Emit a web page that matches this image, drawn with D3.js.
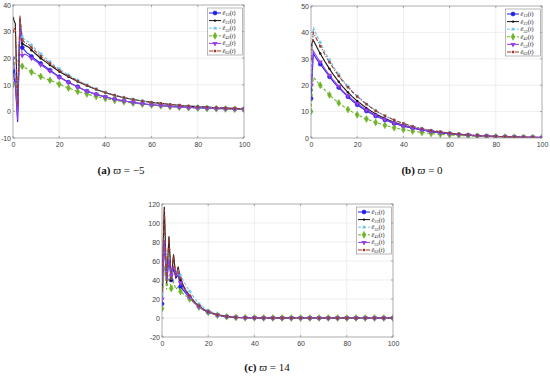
<!DOCTYPE html>
<html lang="en">
<head>
<meta charset="UTF-8"/>
<title>Error curves for three values of varpi</title>
<script src="https://d3js.org/d3.v7.min.js"></script>
<style>
    body { margin: 0; background: #fff; }
    .tick text { font-family: "Liberation Sans", Arial, sans-serif; font-size: 7px; fill: #404040; }
</style>
</head>
<body>
<div id="chart"></div>
<script>
    // time samples shared by all panels
    var tValues = [0, 1, 2, 3, 4, 5, 6, 7, 8, 10, 12, 14, 16, 18, 20, 24, 28, 32, 36, 40,
        44, 48, 52, 56, 60, 64, 68, 72, 76, 80, 84, 88, 92, 96, 100];

    var seriesNames = ["12", "22", "32", "42", "52", "62"];

    // panel (a) varpi = -5
    var a1 = [15, 10, -4, 32, 24, 23, 22, 21.5, 20.6, 19.3, 18, 16.8, 15.5, 14.3, 13, 11, 9.3, 7.6, 6.4, 5.4, 4.6, 3.9, 3.4, 2.9, 2.5, 2.2, 1.9, 1.7, 1.5, 1.35, 1.2, 1.1, 1.0, 0.9, 0.8];
    var a2 = [35, 33, 0, 35, 25.5, 25, 24.5, 24, 23, 21.5, 20, 18.7, 17.4, 16.2, 15, 13, 11.2, 9.6, 8.2, 7, 6, 5.1, 4.5, 3.9, 3.4, 3, 2.6, 2.3, 2, 1.8, 1.6, 1.4, 1.25, 1.1, 1.0];
    var a3 = [20, 15, 3, 34, 28, 27, 26.5, 26, 25, 23.3, 21.7, 20.2, 18.7, 17.3, 16, 13.7, 11.7, 10, 8.5, 7.2, 6.1, 5.3, 4.6, 4, 3.4, 3, 2.6, 2.3, 2, 1.8, 1.6, 1.4, 1.25, 1.1, 1.0];
    var a4 = [10, 21, 19, 18, 17, 16.5, 16, 15.4, 14.8, 14, 13.1, 12.4, 11.7, 11, 10.2, 8.8, 7.5, 6.5, 5.6, 4.8, 4.1, 3.6, 3.1, 2.7, 2.4, 2.1, 1.8, 1.6, 1.4, 1.25, 1.1, 1.0, 0.9, 0.8, 0.75];
    var a5 = [20, 12, -3, 33, 21, 21.5, 21.2, 20.6, 20, 18.8, 17.5, 16.3, 15.2, 14, 12.8, 10.9, 9.2, 7.6, 6.4, 5.4, 4.6, 3.9, 3.4, 2.9, 2.5, 2.2, 1.9, 1.7, 1.5, 1.35, 1.2, 1.1, 1.0, 0.9, 0.8];
    var a6 = [30, 32, 2, 36, 27, 26, 25.5, 25, 24, 22.4, 20.8, 19.4, 18, 16.7, 15.4, 13.3, 11.4, 9.8, 8.4, 7.1, 6.1, 5.2, 4.5, 3.9, 3.4, 3, 2.6, 2.3, 2, 1.8, 1.6, 1.4, 1.25, 1.1, 1.0];

    // panel (b) varpi = 0
    var b1 = [15, 32, 30.5, 29.2, 28, 26.8, 25.6, 24.5, 23.2, 21, 19.1, 17.3, 15.6, 14, 12.6, 10.2, 8.3, 6.8, 5.5, 4.5, 3.7, 3, 2.4, 2, 1.6, 1.3, 1.05, 0.85, 0.7, 0.57, 0.47, 0.38, 0.31, 0.25, 0.2];
    var b2 = [35, 37, 35.3, 33.6, 32, 30.5, 29, 27.6, 26.2, 23.6, 21.3, 19.2, 17.3, 15.6, 14, 11.3, 9.1, 7.4, 6, 4.8, 3.9, 3.1, 2.5, 2.05, 1.65, 1.35, 1.1, 0.88, 0.72, 0.58, 0.47, 0.38, 0.31, 0.25, 0.2];
    var b3 = [25, 42, 40, 38, 36.2, 34.4, 32.7, 31.1, 29.6, 26.7, 24.1, 21.7, 19.6, 17.6, 15.9, 12.9, 10.4, 8.4, 6.8, 5.5, 4.4, 3.6, 2.9, 2.35, 1.9, 1.5, 1.2, 1.0, 0.8, 0.65, 0.52, 0.42, 0.34, 0.27, 0.22];
    var b4 = [10, 23, 22, 21, 20, 19, 18.1, 17.2, 16.3, 14.7, 13.3, 12, 10.8, 9.8, 8.8, 7.2, 5.9, 4.8, 3.9, 3.2, 2.6, 2.1, 1.7, 1.4, 1.15, 0.95, 0.78, 0.64, 0.52, 0.43, 0.35, 0.29, 0.24, 0.2, 0.16];
    var b5 = [20, 33, 31.5, 30.1, 28.8, 27.5, 26.2, 25, 23.8, 21.6, 19.6, 17.7, 16, 14.5, 13.1, 10.6, 8.6, 7, 5.7, 4.6, 3.8, 3.1, 2.5, 2, 1.65, 1.35, 1.1, 0.88, 0.72, 0.58, 0.47, 0.38, 0.31, 0.25, 0.2];
    var b6 = [30, 40, 38.2, 36.5, 34.8, 33.2, 31.6, 30.1, 28.7, 26, 23.5, 21.2, 19.2, 17.4, 15.7, 12.8, 10.3, 8.4, 6.8, 5.5, 4.4, 3.6, 2.9, 2.35, 1.9, 1.5, 1.2, 1.0, 0.8, 0.65, 0.52, 0.42, 0.34, 0.27, 0.22];

    // panel (c) varpi = 14
    var c1 = [15, 80, 38, 60, 40, 52, 42, 45, 33, 27, 21, 16, 12, 8.5, 6, 3, 1.4, 0.6, 0.3, 0.15, 0.08, 0.04, 0.02, 0.01, 0, 0, 0, 0, 0, 0, 0, 0, 0, 0, 0];
    var c2 = [35, 117, 36, 86, 40, 67, 42, 54, 40, 30, 23, 17, 12.5, 9, 6.5, 3.2, 1.5, 0.7, 0.35, 0.2, 0.1, 0.05, 0.02, 0.01, 0, 0, 0, 0, 0, 0, 0, 0, 0, 0, 0];
    var c3 = [25, 85, 40, 65, 42, 55, 46, 50, 45, 36, 28, 21, 15, 11, 8, 4, 2, 0.9, 0.4, 0.2, 0.1, 0.05, 0.02, 0.01, 0, 0, 0, 0, 0, 0, 0, 0, 0, 0, 0];
    var c4 = [10, 55, 30, 45, 31, 38, 30, 33, 28, 24, 20, 15.5, 11.5, 8.3, 6, 3, 1.4, 0.6, 0.3, 0.15, 0.08, 0.04, 0.02, 0.01, 0, 0, 0, 0, 0, 0, 0, 0, 0, 0, 0];
    var c5 = [20, 82, 40, 62, 45, 55, 44, 48, 37, 29, 22, 16.5, 12, 8.8, 6.3, 3.1, 1.5, 0.7, 0.3, 0.15, 0.08, 0.04, 0.02, 0.01, 0, 0, 0, 0, 0, 0, 0, 0, 0, 0, 0];
    var c6 = [30, 115, 38, 85, 42, 66, 44, 53, 42, 31, 23.5, 17.5, 13, 9.3, 6.7, 3.3, 1.6, 0.75, 0.35, 0.2, 0.1, 0.05, 0.02, 0.01, 0, 0, 0, 0, 0, 0, 0, 0, 0, 0, 0];

    var xTicks = [0, 20, 40, 60, 80, 100];
    var yTicksA = [-10, 0, 10, 20, 30, 40];
    var yTicksB = [0, 10, 20, 30, 40, 50];
    var yTicksC = [-20, 0, 20, 40, 60, 80, 100, 120];

    // line style per series, in the matlab spirit
    var styles = [
        {color: "#1f1fe6", dash: null, marker: "circle"},
        {color: "#111111", dash: null, marker: "dot"},
        {color: "#6cc4ee", dash: "3,2", marker: "star"},
        {color: "#6fb32a", dash: "3,2", marker: "diamond"},
        {color: "#9a3ee8", dash: null, marker: "tri"},
        {color: "#9c3a2a", dash: "4,1.5,1,1.5", marker: "square"}
    ];

    var width = 550, height = 376;
    var svg = d3.select("#chart").append("svg").attr("width", width).attr("height", height);

    var panels = [
        {id: "a", series: [a1, a2, a3, a4, a5, a6], yDomain: [-10, 40], yTicks: yTicksA,
            left: 13, right: 244, top: 5, bottom: 138, label: "(a)", varpi: "\u22125", capX: 121, capY: 174},
        {id: "b", series: [b1, b2, b3, b4, b5, b6], yDomain: [0, 50], yTicks: yTicksB,
            left: 311, right: 542, top: 6, bottom: 138, label: "(b)", varpi: "0", capX: 422, capY: 174},
        {id: "c", series: [c1, c2, c3, c4, c5, c6], yDomain: [-20, 120], yTicks: yTicksC,
            left: 162, right: 393, top: 204, bottom: 337, label: "(c)", varpi: "14", capX: 267, capY: 371}
    ];

    function drawMarker(g, kind, x, y, color) {
        if (kind === "circle") {
            g.append("circle").attr("cx", x).attr("cy", y).attr("r", 2).attr("fill", color).attr("stroke", color).attr("stroke-width", 0.6);
        } else if (kind === "dot") {
            g.append("circle").attr("cx", x).attr("cy", y).attr("r", 1.2).attr("fill", color);
        } else if (kind === "star") {
            var s = 1.8;
            g.append("path").attr("d", "M" + (x - s) + "," + y + "H" + (x + s) + "M" + x + "," + (y - s) + "V" + (y + s) +
                "M" + (x - s * 0.7) + "," + (y - s * 0.7) + "L" + (x + s * 0.7) + "," + (y + s * 0.7) +
                "M" + (x - s * 0.7) + "," + (y + s * 0.7) + "L" + (x + s * 0.7) + "," + (y - s * 0.7))
                .attr("stroke", color).attr("stroke-width", 0.8).attr("fill", "none");
        } else if (kind === "diamond") {
            g.append("path").attr("d", d3.symbol(d3.symbolDiamond, 14)()).attr("transform", "translate(" + x + "," + y + ")")
                .attr("fill", color).attr("stroke", color).attr("stroke-width", 0.5);
        } else if (kind === "tri") {
            g.append("path").attr("d", d3.symbol(d3.symbolTriangle, 12)()).attr("transform", "translate(" + x + "," + y + ") rotate(180)")
                .attr("fill", color);
        } else if (kind === "square") {
            g.append("path").attr("d", d3.symbol(d3.symbolSquare, 6)()).attr("transform", "translate(" + x + "," + y + ")")
                .attr("fill", color);
        }
    }

    panels.forEach(function (p) {
        var xScale = d3.scaleLinear().domain([0, 100]).range([p.left, p.right]);
        var yScale = d3.scaleLinear().domain(p.yDomain).range([p.bottom, p.top]);
        var g = svg.append("g");

        g.append("rect").attr("x", p.left).attr("y", p.top).attr("width", p.right - p.left).attr("height", p.bottom - p.top)
            .attr("fill", "#fff");

        // grid lines
        g.selectAll(".gx").data(xTicks.slice(1, -1)).enter().append("line")
            .attr("x1", function (d) { return xScale(d); }).attr("x2", function (d) { return xScale(d); })
            .attr("y1", p.top).attr("y2", p.bottom).attr("stroke", "#e3e3e3").attr("stroke-width", 0.6);
        g.selectAll(".gy").data(p.yTicks.slice(1, -1)).enter().append("line")
            .attr("y1", function (d) { return yScale(d); }).attr("y2", function (d) { return yScale(d); })
            .attr("x1", p.left).attr("x2", p.right).attr("stroke", "#e3e3e3").attr("stroke-width", 0.6);

        // axes (labels only, box drawn below); plain hyphen like matlab
        var xAxis = d3.axisBottom(xScale).tickValues(xTicks).tickSize(0).tickPadding(4);
        var yAxis = d3.axisLeft(yScale).tickValues(p.yTicks).tickSize(0).tickPadding(2)
            .tickFormat(function (d) { return String(d); });
        var gx = g.append("g").attr("transform", "translate(0," + p.bottom + ")").call(xAxis);
        var gy = g.append("g").attr("transform", "translate(" + p.left + ",0)").call(yAxis);
        gx.select(".domain").remove();
        gy.select(".domain").remove();

        // small inward ticks on all four sides
        xTicks.forEach(function (d) {
            g.append("line").attr("x1", xScale(d)).attr("x2", xScale(d)).attr("y1", p.bottom).attr("y2", p.bottom - 2).attr("stroke", "#777").attr("stroke-width", 0.6);
            g.append("line").attr("x1", xScale(d)).attr("x2", xScale(d)).attr("y1", p.top).attr("y2", p.top + 2).attr("stroke", "#777").attr("stroke-width", 0.6);
        });
        p.yTicks.forEach(function (d) {
            g.append("line").attr("y1", yScale(d)).attr("y2", yScale(d)).attr("x1", p.left).attr("x2", p.left + 2).attr("stroke", "#777").attr("stroke-width", 0.6);
            g.append("line").attr("y1", yScale(d)).attr("y2", yScale(d)).attr("x1", p.right).attr("x2", p.right - 2).attr("stroke", "#777").attr("stroke-width", 0.6);
        });

        svg.append("clipPath").attr("id", "clip-" + p.id).append("rect")
            .attr("x", p.left).attr("y", p.top).attr("width", p.right - p.left).attr("height", p.bottom - p.top);
        var plot = g.append("g").attr("clip-path", "url(#clip-" + p.id + ")");

        var line = d3.line().x(function (d) { return xScale(d[0]); }).y(function (d) { return yScale(d[1]); });

        p.series.forEach(function (vals, k) {
            var st = styles[k];
            var pts = tValues.map(function (t, i) { return [t, vals[i]]; });
            plot.append("path").datum(pts).attr("d", line).attr("fill", "none")
                .attr("stroke", st.color).attr("stroke-width", 1.1)
                .attr("stroke-dasharray", st.dash);
        });
        p.series.forEach(function (vals, k) {
            var st = styles[k];
            tValues.forEach(function (t, i) {
                if (t % 4 === 0) drawMarker(plot, st.marker, xScale(t), yScale(vals[i]), st.color);
            });
        });

        g.append("rect").attr("x", p.left).attr("y", p.top).attr("width", p.right - p.left).attr("height", p.bottom - p.top)
            .attr("fill", "none").attr("stroke", "#8a8a8a").attr("stroke-width", 0.7);

        // legend in the top right corner
        var lgW = 35, lgH = 47, rowH = 7.6;
        var lg = g.append("g").attr("transform", "translate(" + (p.right - lgW - 1.5) + "," + (p.top + 3) + ")");
        lg.append("rect").attr("width", lgW).attr("height", lgH).attr("fill", "#fff").attr("stroke", "#8a8a8a").attr("stroke-width", 0.6);
        seriesNames.forEach(function (name, k) {
            var st = styles[k];
            var y = 5 + k * rowH;
            lg.append("line").attr("x1", 1.5).attr("x2", 13.5).attr("y1", y).attr("y2", y)
                .attr("stroke", st.color).attr("stroke-width", 1).attr("stroke-dasharray", st.dash);
            drawMarker(lg, st.marker, 7.5, y, st.color);
            var txt = lg.append("text").attr("x", 15).attr("y", y + 2)
                .attr("font-family", "'Liberation Serif', serif").attr("font-size", 6.2).attr("fill", "#222");
            txt.append("tspan").attr("font-style", "italic").text("\u00ea");
            txt.append("tspan").attr("font-size", 4.4).attr("dy", 1.3).text(name);
            txt.append("tspan").attr("dy", -1.3).text("(");
            txt.append("tspan").attr("font-style", "italic").text("t");
            txt.append("tspan").text(")");
        });

        // caption under the panel
        var cap = svg.append("text").attr("x", p.capX).attr("y", p.capY).attr("text-anchor", "middle")
            .attr("font-family", "'Liberation Serif', 'DejaVu Serif', serif").attr("font-size", 11).attr("fill", "#111");
        cap.append("tspan").attr("font-weight", "bold").text(p.label);
        cap.append("tspan").text(" ");
        cap.append("tspan").attr("font-style", "italic").text("\u03d6");
        cap.append("tspan").text(" = " + p.varpi);
    });
</script>
</body>
</html>
